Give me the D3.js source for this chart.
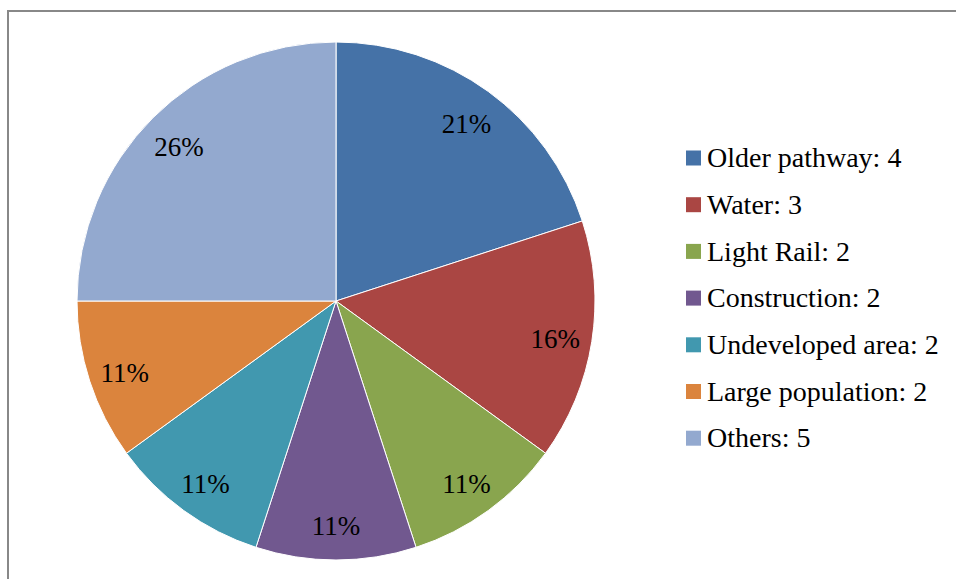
<!DOCTYPE html>
<html><head><meta charset="utf-8">
<script src="https://cdn.jsdelivr.net/npm/d3@7"></script>
<style>body{margin:0;background:#fff}svg{display:block}</style>
</head><body>
<script>
const categories = ["Older pathway","Water","Light Rail","Construction","Undeveloped area","Large population","Others"];
const values = [4,3,2,2,2,2,5];
const pctLabels = ["21%","16%","11%","11%","11%","11%","26%"];
const colors = ["#4572A7","#AA4643","#89A54E","#71588F","#4198AF","#DB843D","#93A9CF"];

const W=956,H=579;
const svg=d3.select("body").append("svg").attr("width",W).attr("height",H);
// frame
svg.append("path").attr("d","M8,579V11H956").attr("fill","none").attr("stroke","#888").attr("stroke-width",2);

const cx=336, cy=301, R=259;
const font="Liberation Serif, serif";
const pie=d3.pie().sort(null).value(d=>d)(values);
const arc=d3.arc().innerRadius(0).outerRadius(R);
const labArc=d3.arc().innerRadius(222).outerRadius(222);
const g=svg.append("g").attr("transform",`translate(${cx},${cy})`);
g.selectAll("path").data(pie).join("path")
  .attr("d",arc).attr("fill",(d,i)=>colors[i]).attr("stroke","#fff").attr("stroke-width",1);
g.selectAll("text").data(pie).join("text")
  .attr("transform",d=>{const c=labArc.centroid(d);return `translate(${c[0]},${c[1]+3})`;})
  .attr("text-anchor","middle").attr("dy","0.33em")
  .attr("font-family",font).attr("font-size",27).attr("fill","#000")
  .text((d,i)=>pctLabels[i]);

const leg=svg.append("g");
const y0=158, step=46.7;
categories.forEach((c,i)=>{
  leg.append("rect").attr("x",686).attr("y",y0+i*step-7.5).attr("width",15).attr("height",15).attr("fill",colors[i]);
  leg.append("text").attr("x",707).attr("y",y0+i*step).attr("dy","0.33em")
    .attr("font-family",font).attr("font-size",28).attr("fill","#000")
    .text(`${c}: ${values[i]}`);
});
</script>
</body></html>
